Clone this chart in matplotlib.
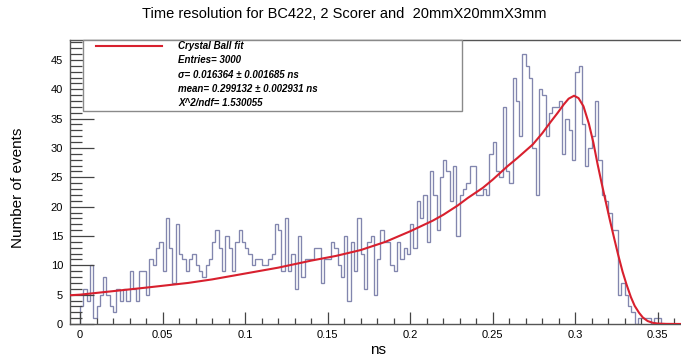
import numpy as np
import matplotlib
matplotlib.use("Agg")
import matplotlib.pyplot as plt
from matplotlib.patches import Rectangle
from matplotlib.lines import Line2D
from matplotlib.ticker import MultipleLocator

plt.rcParams['font.family'] = ['Liberation Sans', 'DejaVu Sans']

# ---- data ----
bin_start = 0.0
bin_width = 0.002
counts = [
    3, 6, 4, 10, 1, 3, 5, 8, 5, 3, 2, 6, 4, 6, 4, 9, 6, 4, 9, 9,
    5, 11, 10, 13, 14, 9, 18, 13, 7, 17, 12, 11, 9, 11, 12, 10, 9, 8, 10, 11,
    14, 16, 13, 9, 15, 13, 9, 14, 16, 14, 13, 12, 10, 11, 11, 10, 10, 11, 12, 17,
    16, 9, 18, 9, 12, 6, 15, 8, 11, 11, 11, 13, 13, 7, 11, 11, 14, 13, 10, 8,
    15, 4, 14, 9, 18, 12, 6, 14, 15, 5, 11, 16, 14, 14, 10, 9, 14, 11, 13, 12,
    17, 13, 21, 18, 22, 14, 26, 22, 16, 25, 28, 26, 21, 27, 15, 22, 23, 24, 27, 27,
    22, 22, 23, 22, 29, 31, 26, 25, 37, 26, 24, 42, 38, 32, 46, 44, 42, 30, 22, 40,
    39, 32, 36, 37, 37, 38, 29, 35, 33, 28, 43, 44, 34, 27, 30, 32, 38, 28, 22, 21,
    19, 16, 16, 5, 7, 5, 3, 2, 0, 1, 1, 1, 1, 0, 1, 1, 0, 0, 0, 0,
]

# Crystal Ball fit curve
fit_x = [-0.0061, 0.0, 0.02, 0.04, 0.0655, 0.08, 0.1, 0.12, 0.14, 0.155, 0.17,
         0.185, 0.2, 0.2136, 0.22, 0.2288, 0.235, 0.244, 0.25, 0.259, 0.265,
         0.2743, 0.28, 0.285, 0.2894, 0.293, 0.296, 0.2993, 0.302, 0.305,
         0.3083, 0.311, 0.3135, 0.316, 0.3186, 0.321, 0.3236, 0.326, 0.3287,
         0.331, 0.3337, 0.336, 0.3387, 0.341, 0.3439, 0.347, 0.35, 0.355, 0.3659]
fit_y = [4.9, 5.0, 5.6, 6.2, 7.0, 7.6, 8.6, 9.6, 10.8, 11.6, 12.6,
         14.0, 15.8, 17.6, 18.6, 20.2, 21.5, 23.2, 24.6, 26.9, 28.3,
         30.6, 32.5, 34.4, 36.0, 37.4, 38.4, 38.9, 38.5, 37.1,
         34.1, 30.9, 27.3, 24.0, 20.7, 17.7, 14.6, 11.8, 8.9,
         6.8, 4.6, 3.1, 1.9, 1.1, 0.5, 0.2, 0.08, 0.02, 0.0]

title = "Time resolution for BC422, 2 Scorer and  20mmX20mmX3mm"
xlabel = "ns"
ylabel = "Number of events"
legend_lines = ["Crystal Ball fit", "Entries= 3000",
                "\u03c3= 0.016364 \u00b1 0.001685 ns",
                "mean= 0.299132 \u00b1 0.002931 ns"]
chi_line = "X^2/ndf= 1.530055"

# ---- figure ----
W, H = 681, 359
fig = plt.figure(figsize=(W / 100, H / 100), dpi=100)

def fx(px):
    return px / W

def fy(py):
    return 1 - py / H

ax_l, ax_r, ax_t, ax_b = 70, 684, 40, 324
ax = fig.add_axes([fx(ax_l), fy(ax_b), (ax_r - ax_l) / W, (ax_b - ax_t) / H])

edges = bin_start + bin_width * np.arange(len(counts) + 1)
ax.stairs(counts, edges, baseline=0, color='#8286ae', linewidth=0.95)
ax.plot(fit_x, fit_y, color='#d8202e', linewidth=1.5, zorder=3,
        solid_joinstyle='round')

ax.set_xlim(-0.0061, 0.3659)
ax.set_ylim(0, 48.4)

ax.xaxis.set_minor_locator(MultipleLocator(0.01))
ax.yaxis.set_major_locator(MultipleLocator(5))
ax.yaxis.set_minor_locator(MultipleLocator(1))
ax.set_xticks([0, 0.05, 0.1, 0.15, 0.2, 0.25, 0.3, 0.35])
ax.set_xticklabels(["0", "0.05", "0.1", "0.15", "0.2", "0.25", "0.3", "0.35"])
ax.tick_params(axis='x', which='major', direction='in', length=8.5, width=0.9,
               labelsize=8, pad=4, color='#444444')
ax.tick_params(axis='x', which='minor', direction='in', length=4.3, width=0.9,
               color='#444444')
ax.tick_params(axis='y', which='major', direction='in', length=17, width=0.9,
               labelsize=8, pad=5, color='#444444')
ax.tick_params(axis='y', which='minor', direction='in', length=8.5, width=0.9,
               color='#444444')
for s in ax.spines.values():
    s.set_color('#555555')
    s.set_linewidth(1.0)

fig.text(fx(344), fy(14), title, ha='center', va='center', fontsize=10.5)
fig.text(fx(378), fy(350), xlabel, ha='center', va='center', fontsize=11)
fig.text(fx(18), fy(188), ylabel, ha='center', va='center', fontsize=11,
         rotation=90)

# stats/legend box
box = Rectangle((fx(83), fy(111)), (462 - 83) / W, (111 - 40) / H,
                transform=fig.transFigure, facecolor='white',
                edgecolor='#8a8a8a', linewidth=1.0, zorder=5)
fig.add_artist(box)
fig.add_artist(Line2D([fx(96), fx(162)], [fy(46), fy(46)],
                      transform=fig.transFigure, color='#d8202e',
                      linewidth=1.5, zorder=6))
ys = [46, 60, 75, 89]
for yy, txt in zip(ys, legend_lines):
    fig.text(fx(178), fy(yy), txt, ha='left', va='center', fontsize=7,
             fontweight='bold', fontstyle='italic', zorder=7)
fig.text(fx(178), fy(103), chi_line, ha='left', va='center', fontsize=7,
         fontweight='bold', fontstyle='italic', zorder=7)

fig.savefig("out.png", dpi=100)
